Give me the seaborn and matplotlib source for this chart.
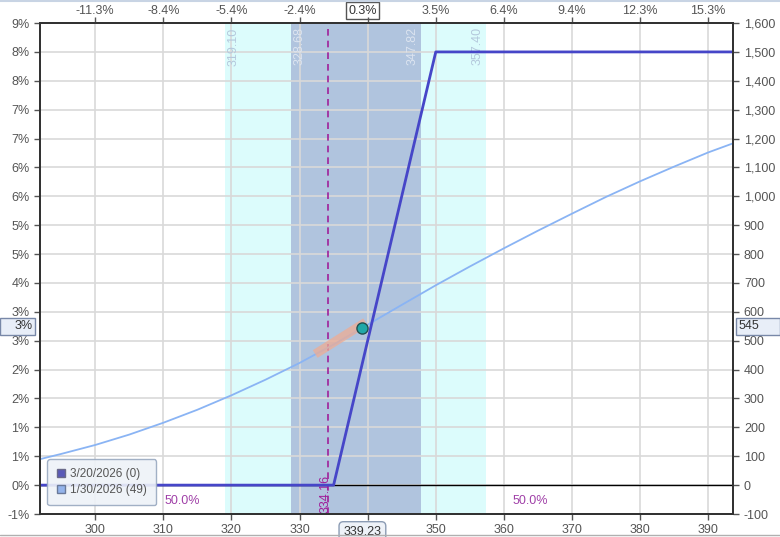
import matplotlib
matplotlib.use("Agg")
import matplotlib.pyplot as plt
import seaborn as sns
from matplotlib.lines import Line2D
from matplotlib.patches import Rectangle

# expiration P&L (3/20/2026)
exp_price = [291.9, 335.0, 350.0, 393.7]
exp_pnl = [0, 0, 1500, 1500]

# today's P&L curve (1/30/2026, 49 days)
t0_price = [291.9, 295, 300, 305, 310, 315, 320, 325, 330, 335, 339.23, 345,
            350, 355, 360, 365, 370, 375, 380, 385, 390, 393.7]
t0_pnl = [90, 108, 139, 175, 216, 261, 311, 365, 423, 487, 545, 624,
          692, 757, 820, 881, 940, 998, 1052, 1103, 1152, 1184]

spot = 339.23
spot_pnl = 545
breakeven = 334.16
delta_seg_x = [332.3, 339.7]
delta_seg_y = [454, 564]
outer_band = (319.10, 357.40)
inner_band = (328.68, 347.82)

x_ticks = [300, 310, 320, 330, 340, 350, 360, 370, 380, 390]
x_labels = ['300', '310', '320', '330', '', '350', '360', '370', '380', '390']
top_labels = ['-11.3%', '-8.4%', '-5.4%', '-2.4%', '', '3.5%', '6.4%', '9.4%', '12.3%', '15.3%']
y_ticks = list(range(-100, 1700, 100))
pct_labels = ['-1%', '0%', '1%', '1%', '2%', '2%', '3%', '3%', '4%', '5%', '5%',
              '6%', '6%', '7%', '7%', '8%', '8%', '9%']

sns.set_style("white")
plt.rcParams['font.family'] = ['Liberation Sans', 'DejaVu Sans']
plt.rcParams['font.size'] = 9

fig = plt.figure(figsize=(7.8, 5.37), dpi=100)
ax = fig.add_axes([0.0513, 0.0428, 0.8890, 0.9143])
xlim = (291.9, 393.7)
ylim = (-100, 1600)

tick_col = '#555555'
spine_col = '#333333'

ax.axvspan(*outer_band, color='#dcfcfc', zorder=0.1, lw=0)
ax.axvspan(*inner_band, color='#b0c4de', zorder=0.2, lw=0)
ax.grid(True, color='#d9d9d9', lw=1.2, zorder=0.5)
ax.set_axisbelow(True)

ax.axhline(0, color='black', lw=1, zorder=2)
ax.axvline(breakeven, color='#a0209a', lw=1.2, ls=(0, (4, 3)), zorder=2)

sns.lineplot(x=t0_price, y=t0_pnl, ax=ax, color='#8ab4f4', lw=1.3, zorder=3)
sns.lineplot(x=exp_price, y=exp_pnl, ax=ax, color='#4646c8', lw=2.0, zorder=4)
ax.plot(delta_seg_x, delta_seg_y, color='#eeac94', alpha=0.75, lw=6.5, solid_capstyle='butt', zorder=5)
ax.plot([spot], [spot_pnl], 'o', ms=8, mfc='#20a8a8', mec='#205050', mew=1, zorder=6)

ax.set_xlim(xlim)
ax.set_ylim(ylim)
ax.set_xticks(x_ticks)
ax.set_xticklabels(x_labels)
ax.set_yticks(y_ticks)
ax.set_yticklabels(pct_labels)
ax.tick_params(axis='both', colors=tick_col, labelcolor=tick_col, length=4, width=1, direction='out')
ax.tick_params(axis='x', pad=3)
for s in ax.spines.values():
    s.set_color(spine_col)
    s.set_linewidth(1.2)

ax2 = ax.twinx()
ax2.set_ylim(ylim)
ax2.set_yticks(y_ticks)
ax2.set_yticklabels([f'{v:,}' for v in y_ticks])
ax2.tick_params(axis='y', colors=tick_col, labelcolor=tick_col, length=4, width=1)

ax3 = ax.twiny()
ax3.set_xlim(xlim)
ax3.set_xticks(x_ticks)
ax3.set_xticklabels(top_labels)
ax3.tick_params(axis='x', colors=tick_col, labelcolor=tick_col, length=4, width=1, pad=0.5)
for a in (ax2, ax3):
    for s in a.spines.values():
        s.set_color(spine_col)
        s.set_linewidth(1.2)

# band edge labels
lab_y = 1585
ax.text(outer_band[0] + 0.4, lab_y, f'{outer_band[0]:.2f}', rotation=90, va='top', ha='left',
        color='#b4c8dc')
ax.text(inner_band[0] + 0.4, lab_y, f'{inner_band[0]:.2f}', rotation=90, va='top', ha='left',
        color='#dce4f0')
ax.text(inner_band[1] - 0.4, lab_y, f'{inner_band[1]:.2f}', rotation=90, va='top', ha='right',
        color='#dce4f0')
ax.text(outer_band[1] - 0.4, lab_y, f'{outer_band[1]:.2f}', rotation=90, va='top', ha='right',
        color='#b4c8dc')
ax.text(breakeven + 0.5, -97, f'{breakeven:.2f}', rotation=90, va='bottom', ha='right',
        color='#a0209a')

ax.text(312.8, -55, '50.0%', color='#a040a8', ha='center', va='center')
ax.text(363.8, -55, '50.0%', color='#a040a8', ha='center', va='center')

# boxed current-value labels
ax.annotate(f'{spot:.2f}', xy=(spot, 0), xycoords=('data', 'axes fraction'),
            xytext=(0, -13), textcoords='offset points', ha='center', va='center',
            color='#333333',
            bbox=dict(boxstyle='round,pad=0.35', fc='#eef2f8', ec='#8c9cb4', lw=1))
ax.annotate('0.3%', xy=(spot, 1), xycoords=('data', 'axes fraction'),
            xytext=(0, 9), textcoords='offset points', ha='center', va='center',
            color='#333333',
            bbox=dict(boxstyle='square,pad=0.2', fc='white', ec='#555555', lw=1))

# side value boxes (figure pixel coords)
W, H = 780, 537
yb = 326
fig.add_artist(Rectangle((0 / W, 1 - (yb + 8.5) / H), 35 / W, 17 / H, transform=fig.transFigure,
                         fc='#e8eef8', ec='#7888a8', lw=1))
fig.text(33 / W, 1 - yb / H, '3%', ha='right', va='center', color='#333333')
fig.add_artist(Rectangle((736 / W, 1 - (yb + 8.5) / H), 44 / W, 17 / H, transform=fig.transFigure,
                         fc='#e8eef8', ec='#7888a8', lw=1))
fig.text(739 / W, 1 - yb / H, f'{spot_pnl}', ha='left', va='center', color='#333333')

handles = [
    Line2D([], [], ls='none', marker='s', ms=6, mfc='#5a5ab8', mec='#6a6a8a', label='3/20/2026 (0)'),
    Line2D([], [], ls='none', marker='s', ms=6, mfc='#94b4ec', mec='#6a7a9a', label='1/30/2026 (49)'),
]
leg = ax.legend(handles=handles, loc='lower left', bbox_to_anchor=(0.002, 0.006),
                frameon=True, fancybox=True, framealpha=0.9, facecolor='#eef2f8',
                edgecolor='#98a8c0', handlelength=0.8, handletextpad=0.4,
                borderpad=0.75, labelspacing=0.35, fontsize=8.5)
for t in leg.get_texts():
    t.set_color('#555555')
leg.set_zorder(10)

fig.add_artist(Line2D([0, 1], [0.999, 0.999], color='#c8d4e4', lw=1.5))
fig.add_artist(Line2D([0, 1], [0.004, 0.004], color='#b0b0b0', lw=1))

fig.savefig('out.png', dpi=100)
